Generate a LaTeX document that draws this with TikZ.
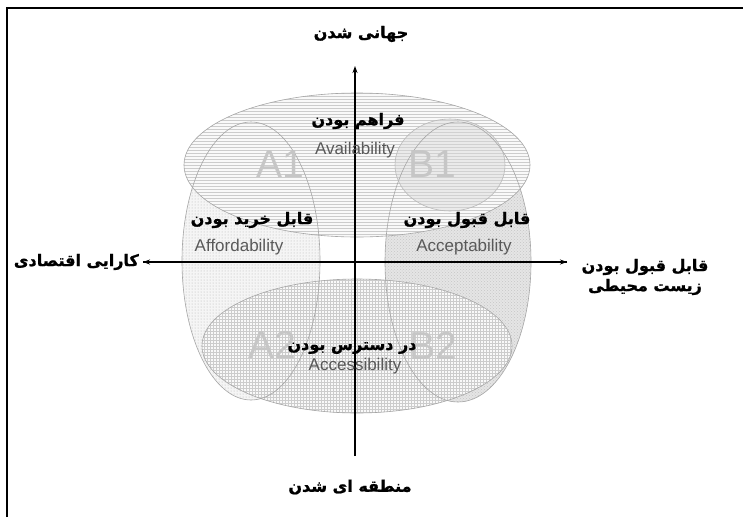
\documentclass[tikz,border=0pt]{standalone}
\usepackage{fontspec}
\setmainfont{Liberation Sans}
\newfontfamily\fa[Script=Arabic, BoldFeatures={FakeBold=1.2}]{DejaVu Sans}
\TeXXeTstate=1
\usetikzlibrary{patterns,arrows.meta}
\tikzset{
  region/.style={draw=gray!70, line width=0.6pt},
  axis/.style={line width=1.3pt, black, -{Stealth[length=7pt,width=5pt]}},
  falab/.style={font=\fa\bfseries\fontsize{16}{18}\selectfont, text=black, inner sep=0pt},
  enlab/.style={font=\fontsize{17}{19}\selectfont, text=gray!70!black, inner sep=0pt},
  biglab/.style={font=\fontsize{39}{40}\selectfont, text=gray!45, inner sep=0pt},
}
\begin{document}
\begin{tikzpicture}[x=1pt,y=-1pt]
\useasboundingbox (0,0) rectangle (743,517);
\fill[white] (0,0) rectangle (743,517);
% frame
\draw[line width=2pt] (7,517) -- (7,8) -- (743,8);
% regions
\path[fill=gray!8] (251,261) ellipse [x radius=69, y radius=139];
\path[pattern=dots, pattern color=gray!60] (251,261) ellipse [x radius=69, y radius=139];
\path[fill=gray!20] (458,262) ellipse [x radius=73, y radius=140];
\path[pattern=crosshatch dots, pattern color=gray!45] (458,262) ellipse [x radius=73, y radius=140];
\path[fill=gray!5] (357,165) ellipse [x radius=173, y radius=72];
\path[pattern=horizontal lines, pattern color=gray!40] (357,165) ellipse [x radius=173, y radius=72];
\path[fill=gray!5] (357,346) ellipse [x radius=155, y radius=67];
\path[pattern=grid, pattern color=gray!40] (357,346) ellipse [x radius=155, y radius=67];
\path[fill=gray!30, opacity=0.45] (450,165) ellipse [x radius=55, y radius=46];
% outlines
\draw[region] (251,261) ellipse [x radius=69, y radius=139];
\draw[region] (458,262) ellipse [x radius=73, y radius=140];
\draw[region] (357,165) ellipse [x radius=173, y radius=72];
\draw[region] (357,346) ellipse [x radius=155, y radius=67];
\draw[region, draw=gray!55] (450,165) ellipse [x radius=55, y radius=46];
% big labels
\node[biglab] (a1) at (280,164) {A1};
\node[biglab] (b1) at (432,164) {B1};
\node[biglab] (a2) at (272,345) {A2};
\node[biglab] (b2) at (433,346) {B2};
% axes
\coordinate (xl) at (143,262);
\coordinate (xr) at (567,262);
\coordinate (yt) at (355,66);
\coordinate (yb) at (355,456);
\draw[axis] (xr) -- (xl);
\draw[axis] (xl) -- (xr);
\draw[axis] (yb) -- (yt);
% region labels
\node[falab] (avfa) at (358,121) {\beginR فراهم بودن\endR};
\node[enlab] (aven) at (355,150) {Availability};
\node[falab] (affa) at (252,220) {\beginR قابل خرید بودن\endR};
\node[enlab] (afen) at (239,247) {Affordability};
\node[falab] (acfa) at (467,220) {\beginR قابل قبول بودن\endR};
\node[enlab] (acen) at (464,247) {Acceptability};
\node[falab] (asfa) at (352,348) {\beginR در دسترس بودن\endR};
\node[enlab] (asen) at (355,366) {Accessibility};
% axis labels
\node[falab] (top) at (361,34) {\beginR جهانی شدن\endR};
\node[falab] (bot) at (350,487) {\beginR منطقه ای شدن\endR};
\node[falab, anchor=east] (left) at (139,262) {\beginR کارایی اقتصادی\endR};
\node[falab, align=center] (right) at (645,277) {\beginR قابل قبول بودن\endR\\[2pt]\beginR زیست محیطی\endR};
\end{tikzpicture}
\end{document}
